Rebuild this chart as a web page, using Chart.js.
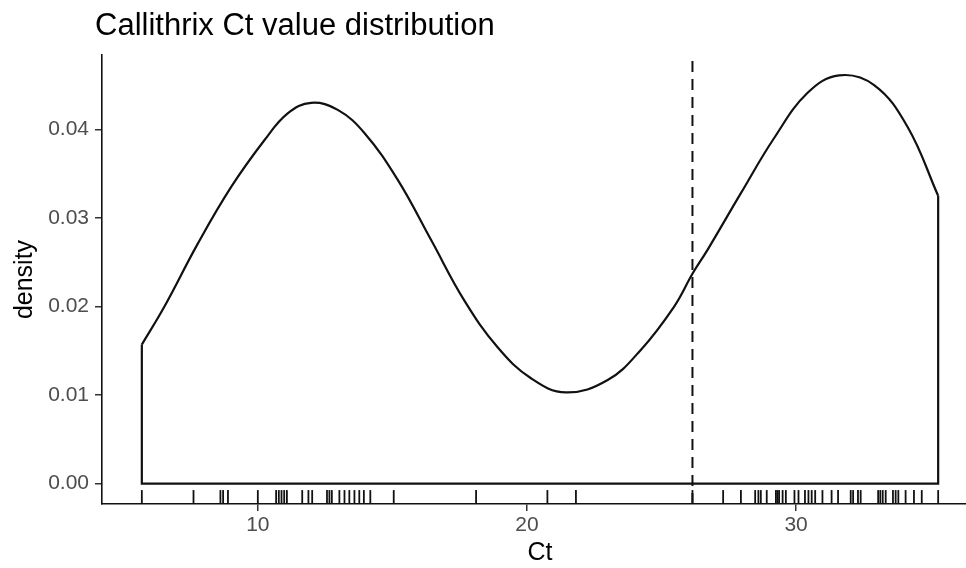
<!DOCTYPE html>
<html>
<head>
<meta charset="utf-8">
<script src="https://cdn.jsdelivr.net/npm/chart.js@4"></script>
<style>
  html, body { margin: 0; padding: 0; background: #fff; overflow: hidden; }
  #wrap { width: 984px; height: 568px; position: relative; }
</style>
</head>
<body>
<div id="wrap"><canvas id="chart"></canvas></div>
<script>
// Ct values (rug marks)
const ctValues = [5.69, 7.61, 8.61, 8.71, 8.89, 10.0, 10.68, 10.78, 10.88, 10.98, 11.08,
  11.65, 11.88, 12.02, 12.57, 12.66, 12.75, 13.03, 13.22, 13.40, 13.59, 13.77, 13.94, 14.18,
  15.05, 18.11, 20.76, 21.82, 26.15, 27.29, 27.95, 28.48, 28.60, 28.69, 28.91, 29.25, 29.31,
  29.37, 29.50, 29.62, 29.94, 30.09, 30.33, 30.46, 30.58, 30.71, 30.98, 31.32, 31.56, 32.03,
  32.12, 32.30, 32.40, 33.05, 33.13, 33.22, 33.33, 33.60, 33.70, 33.80, 34.07, 34.38, 34.67, 35.28];

// density curve, estimated
const densityX = [5.69, 6.53, 7.77, 9.01, 10.25, 11.11, 11.98, 12.97, 13.96, 15.20, 16.44, 17.67,
  18.91, 20.15, 21.45, 23.00, 24.23, 25.47, 26.15, 26.71, 27.95, 29.18, 30.42, 31.60, 32.90, 34.14, 35.28];
const densityY = [0.0157, 0.0200, 0.0271, 0.0335, 0.0388, 0.0418, 0.0430, 0.0422, 0.0396, 0.0343,
  0.0275, 0.0207, 0.0154, 0.0119, 0.0103, 0.0117, 0.0151, 0.0200, 0.0237, 0.0264, 0.0328, 0.0390,
  0.0441, 0.0461, 0.0450, 0.0403, 0.0325];

const cutoff = 26.15;
const xTicks = [10, 20, 30];
const yTicks = [0, 0.01, 0.02, 0.03, 0.04];
const xRange = [4.21, 36.76];
const yRange = [-0.0023, 0.0484];

const ink = '#111';
const font = '"Liberation Sans", Arial, sans-serif';

const curve = densityX.map((x, i) => ({ x: x, y: densityY[i] }));
const last = densityX.length - 1;
const outline = [
  { x: densityX[0], y: densityY[0] },
  { x: densityX[0], y: 0 },
  { x: densityX[last], y: 0 },
  { x: densityX[last], y: densityY[last] }
];

const rugPlugin = {
  id: 'rug',
  afterDatasetsDraw(chart) {
    const { ctx, chartArea, scales } = chart;
    const len = chartArea.height * 0.031;
    ctx.save();
    ctx.strokeStyle = ink;
    ctx.lineWidth = 1.8;
    ctValues.forEach(v => {
      const px = scales.x.getPixelForValue(v);
      ctx.beginPath();
      ctx.moveTo(px, chartArea.bottom);
      ctx.lineTo(px, chartArea.bottom - len);
      ctx.stroke();
    });
    ctx.restore();
  }
};

const titlePlugin = {
  id: 'plotTitle',
  afterDraw(chart) {
    const ctx = chart.ctx;
    ctx.save();
    ctx.fillStyle = '#000';
    ctx.font = '31px ' + font;
    ctx.textBaseline = 'alphabetic';
    ctx.fillText('Callithrix Ct value distribution', 95, 35);
    ctx.restore();
  }
};

new Chart(document.getElementById('chart'), {
  type: 'line',
  data: {
    datasets: [
      { data: curve, borderColor: ink, borderWidth: 2.2, pointRadius: 0, tension: 0.4, fill: false },
      { data: outline, borderColor: ink, borderWidth: 2.2, pointRadius: 0, tension: 0, fill: false },
      { data: [{ x: cutoff, y: yRange[0] }, { x: cutoff, y: yRange[1] }], borderColor: ink, borderWidth: 2,
        borderDash: [11, 7], pointRadius: 0, tension: 0, fill: false }
    ]
  },
  options: {
    responsive: true,
    maintainAspectRatio: false,
    animation: false,
    layout: { padding: { top: 55, right: 6, left: 0, bottom: 0 } },
    plugins: { legend: { display: false }, tooltip: { enabled: false }, title: { display: false } },
    scales: {
      x: {
        type: 'linear',
        min: xRange[0],
        max: xRange[1],
        afterBuildTicks: s => { s.ticks = xTicks.map(v => ({ value: v })); },
        afterFit: s => { s.height = 64; },
        grid: { display: true, drawOnChartArea: false, drawTicks: true, tickLength: 7, color: '#333', lineWidth: 1.5 },
        border: { display: true, color: ink, width: 1.6 },
        ticks: { color: '#4d4d4d', font: { family: font, size: 21 }, padding: 2, maxRotation: 0,
          callback: v => String(v) },
        title: { display: true, text: 'Ct', color: '#000', font: { family: font, size: 25 }, padding: { top: 0, bottom: 0 } }
      },
      y: {
        min: yRange[0],
        max: yRange[1],
        afterBuildTicks: s => { s.ticks = yTicks.map(v => ({ value: v })); },
        afterFit: s => { s.width = 102; },
        grid: { display: true, drawOnChartArea: false, drawTicks: true, tickLength: 7, color: '#333', lineWidth: 1.5 },
        border: { display: true, color: ink, width: 1.6 },
        ticks: { color: '#4d4d4d', font: { family: font, size: 21 }, padding: 6,
          callback: v => v.toFixed(2) },
        title: { display: true, text: 'density', color: '#000', font: { family: font, size: 25 }, padding: { top: 10, bottom: 0 } }
      }
    }
  },
  plugins: [rugPlugin, titlePlugin]
});
</script>
</body>
</html>
